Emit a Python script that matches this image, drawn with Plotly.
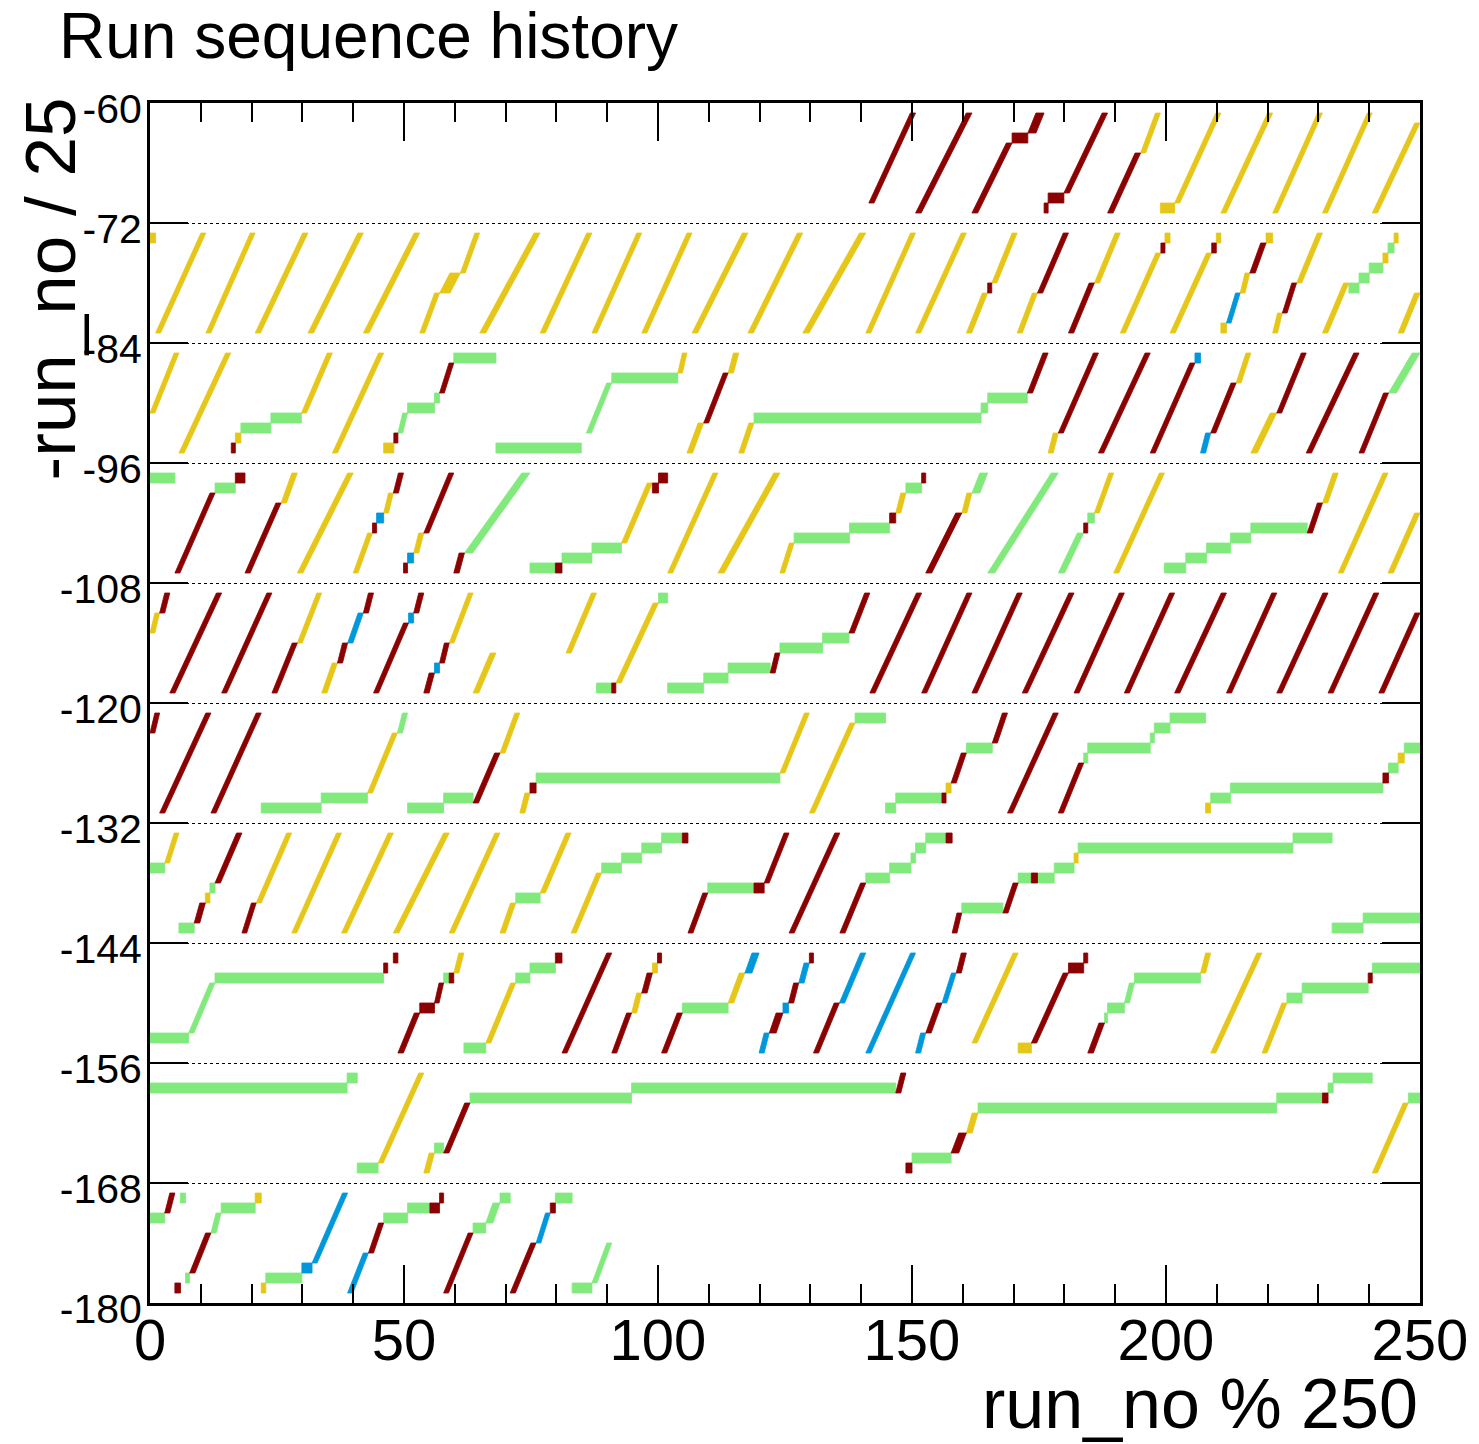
import plotly.graph_objects as go

# Each run group: (band, first_row, last_row, x_start, x_end)
# band 0 is the top strip (-60..-72), rows 0..9 counted upward inside a strip.
RED_RUNS = [
    (0,1,9,141.5,150.7),(0,0,9,150.7,161.8),(0,0,6,161.8,169.7),(0,7,7,169.7,172.8),(0,8,9,172.8,176.0),
    (0,0,0,176.0,176.8),(0,1,1,176.8,179.9),(0,2,9,179.9,188.5),(0,0,5,188.5,195.0),
    (1,4,4,164.9,165.7),(1,4,9,174.7,180.8),(1,0,4,180.8,185.9),(1,8,8,199.0,199.8),(1,8,8,209.0,209.9),
    (1,6,8,216.5,219.7),(1,2,4,222.9,225.7),
    (2,0,0,16.0,16.8),(2,1,1,48.0,48.8),(2,6,8,57.0,59.8),(2,3,7,109.0,113.8),(2,6,9,172.7,176.8),
    (2,2,9,178.8,186.7),(2,0,9,186.7,196.9),(2,0,8,196.9,205.7),(2,2,6,208.8,213.8),(2,4,9,221.8,227.6),
    (2,0,9,227.6,238.0),(2,0,5,238.0,243.8),
    (3,0,7,4.9,12.8),(3,9,9,16.8,18.7),(3,0,6,18.7,25.8),(3,4,4,43.8,44.6),(3,8,9,47.9,49.9),
    (3,0,0,49.9,50.7),(3,4,9,53.9,59.8),(3,0,1,59.8,61.9),(3,0,0,79.8,81.1),(3,8,8,98.9,100.1),
    (3,9,9,100.1,101.9),(3,5,5,145.6,146.8),(3,9,9,151.9,152.7),(3,0,5,152.7,159.8),(3,4,4,183.8,184.6),
    (3,4,6,227.8,230.8),
    (4,8,9,1.9,3.9),(4,0,9,3.9,14.1),(4,0,9,14.1,24.0),(4,0,4,24.0,29.0),(4,3,4,36.9,38.9),
    (4,8,9,42.0,44.0),(4,0,6,44.0,50.9),(4,8,9,51.9,53.9),(4,0,1,53.9,56.0),(4,3,4,57.0,58.9),
    (4,0,0,90.9,91.7),(4,2,3,122.1,124.0),(4,6,9,137.6,141.7),(4,0,9,141.7,151.9),(4,0,9,151.9,161.8),
    (4,0,9,161.8,171.7),(4,0,9,171.7,181.9),(4,0,9,181.9,191.8),(4,0,9,191.8,201.7),(4,0,9,201.7,211.9),
    (4,0,9,211.9,221.8),(4,0,9,221.8,231.9),(4,0,9,231.9,241.9),(4,0,7,241.9,250.0),
    (5,8,9,0.0,1.9),(5,0,9,1.9,12.0),(5,0,9,12.0,21.9),(5,1,5,63.6,68.9),(5,2,2,74.8,76.0),
    (5,1,1,155.9,156.7),(5,3,5,157.7,160.7),(5,7,9,165.8,168.8),(5,0,9,168.8,178.8),(5,0,4,178.8,183.8),
    (5,3,3,242.7,243.8),
    (6,1,2,8.7,10.9),(6,5,9,12.8,18.1),(6,0,2,18.1,20.9),(6,9,9,104.8,105.9),(6,0,3,105.9,109.8),
    (6,4,4,118.9,120.9),(6,5,9,120.9,125.8),(6,0,9,125.8,135.8),(6,0,4,135.8,140.9),(6,9,9,156.7,157.9),
    (6,0,1,157.9,159.8),(6,2,4,167.9,170.9),(6,5,5,173.5,174.7),
    (7,8,8,46.0,46.8),(7,9,9,47.9,48.8),(7,0,3,48.8,53.1),(7,4,4,53.1,56.0),(7,5,6,56.0,57.8),
    (7,7,7,58.9,59.8),(7,9,9,79.8,81.1),(7,0,9,81.1,90.9),(7,0,3,90.9,94.8),(7,6,7,96.8,98.9),
    (7,9,9,99.9,100.7),(7,0,3,100.7,104.8),(7,2,3,121.9,124.6),(7,5,6,125.7,127.7),(7,9,9,129.8,130.6),
    (7,0,4,130.6,135.7),(7,2,4,152.7,155.9),(7,8,9,158.7,160.7),(7,1,7,173.5,180.8),(7,8,8,180.8,183.8),
    (7,9,9,183.8,184.6),(7,0,2,184.6,187.9),(7,7,7,239.8,240.6),
    (8,2,6,57.8,63.0),(8,8,9,146.8,148.8),(8,0,0,148.8,150.0),(8,2,3,157.7,160.7),(8,7,7,230.8,231.9),
    (9,8,9,2.9,4.9),(9,0,0,4.9,6.0),(9,2,5,7.8,12.0),(9,4,6,43.0,46.0),(9,8,8,55.1,57.0),
    (9,9,9,57.0,57.8),(9,0,5,57.8,63.6),(9,0,4,70.9,76.0),(9,8,8,78.8,79.8),
]

YELLOW_RUNS = [
    (0,6,9,195.0,198.9),(0,0,0,198.9,201.7),(0,1,9,201.7,210.8),(0,0,9,210.8,221.0),(0,0,9,221.0,230.8),
    (0,0,9,230.8,240.6),(0,0,8,240.6,250.0),
    (1,9,9,0.0,1.1),(1,0,9,1.1,11.0),(1,0,9,11.0,20.7),(1,0,9,20.7,31.1),(1,0,9,31.1,42.0),
    (1,0,9,42.0,53.1),(1,0,3,53.1,57.0),(1,4,5,57.0,61.1),(1,6,9,61.1,64.9),(1,0,9,64.9,76.8),
    (1,0,9,76.8,87.0),(1,0,9,87.0,96.8),(1,0,9,96.8,106.7),(1,0,9,106.7,117.7),(1,0,9,117.7,128.5),
    (1,0,9,128.5,140.9),(1,0,9,140.9,150.7),(1,0,9,150.7,160.7),(1,0,3,160.7,164.9),(1,5,9,165.7,170.7),
    (1,0,3,170.7,174.7),(1,5,9,185.9,191.0),(1,0,7,191.0,199.0),(1,9,9,199.8,200.8),(1,0,7,200.8,209.0),
    (1,9,9,209.9,210.8),(1,0,0,210.8,211.9),(1,4,5,214.6,216.5),(1,9,9,219.7,221.0),(1,0,1,221.0,222.9),
    (1,5,9,225.7,230.8),(1,0,4,230.8,236.0),(1,7,7,242.7,243.7),(1,9,9,244.9,245.7),(1,0,3,245.7,250.0),
    (2,4,9,0.0,5.7),(2,0,9,5.7,15.9),(2,1,1,16.8,17.9),(2,4,9,29.8,35.9),(2,0,9,35.9,46.0),
    (2,0,0,46.0,48.0),(2,8,9,103.9,105.7),(2,0,2,105.7,109.0),(2,8,9,113.8,115.9),(2,0,2,115.9,118.9),
    (2,0,1,176.8,178.8),(2,7,9,213.8,216.7),(2,0,3,216.7,221.8),
    (3,7,9,25.8,29.0),(3,0,9,29.0,40.0),(3,0,3,40.0,43.8),(3,6,7,46.0,47.9),(3,2,3,51.9,53.9),
    (3,3,8,92.8,98.9),(3,0,9,101.9,111.8),(3,0,9,111.8,124.0),(3,0,2,124.0,126.8),(3,6,7,146.8,148.8),
    (3,6,7,159.8,161.8),(3,6,9,185.9,189.7),(3,0,9,189.7,199.7),(3,7,9,230.8,233.9),(3,0,9,233.9,243.7),
    (3,0,5,243.7,250.0),
    (4,6,7,0.0,1.9),(4,5,9,29.0,33.8),(4,0,2,33.8,36.9),(4,5,9,58.9,63.6),(4,0,3,63.6,68.1),
    (4,4,9,81.9,87.9),(4,1,8,91.7,100.1),
    (5,2,7,42.8,48.7),(5,6,9,68.9,72.8),(5,0,1,72.8,74.8),(5,4,9,124.0,129.8),(5,0,8,129.8,138.8),
    (5,2,2,156.7,157.7),(5,0,0,207.8,208.8),(5,5,5,245.7,246.9),
    (6,7,9,2.9,5.7),(6,3,3,10.9,11.8),(6,3,9,20.9,27.9),(6,0,9,27.9,37.7),(6,0,9,37.7,47.9),
    (6,0,9,47.9,58.9),(6,0,9,58.9,68.9),(6,0,2,68.9,72.0),(6,4,9,76.8,82.9),(6,0,5,82.9,88.9),
    (6,7,7,181.9,182.7),
    (7,8,9,59.8,61.8),(7,1,6,66.1,72.0),(7,4,5,94.8,96.8),(7,8,8,98.9,99.9),(7,5,7,113.8,117.1),
    (7,1,9,161.8,170.9),(7,0,0,170.9,173.5),(7,8,9,206.8,208.8),(7,0,9,208.8,218.9),(7,0,4,218.9,223.8),
    (8,1,9,44.9,53.9),(8,0,1,53.9,56.0),(8,4,5,160.7,163.0),(8,0,6,240.6,247.7),
    (9,9,9,20.7,21.9),(9,0,0,21.9,22.8),
]

GREEN_RUNS = [
    (1,4,4,236.0,238.0),(1,5,5,238.0,240.0),(1,6,6,240.0,242.7),(1,8,8,243.7,244.9),
    (2,2,2,17.9,23.8),(2,3,3,23.8,29.8),(2,2,3,48.8,50.7),(2,4,4,50.7,56.0),(2,5,5,56.0,57.0),
    (2,9,9,59.8,68.1),(2,0,0,68.1,84.9),(2,2,6,85.9,90.9),(2,7,7,90.9,103.9),(2,3,3,118.9,163.6),
    (2,4,4,163.6,164.9),(2,5,5,164.9,172.7),(2,6,9,243.8,250.0),
    (3,9,9,0.0,4.9),(3,8,8,12.8,16.8),(3,2,9,61.9,74.8),(3,0,0,74.8,79.8),(3,1,1,81.1,87.0),
    (3,2,2,87.0,92.8),(3,3,3,126.8,137.7),(3,4,4,137.7,145.6),(3,8,8,148.8,151.9),(3,8,9,161.8,164.9),
    (3,0,9,164.9,178.8),(3,0,3,178.8,183.8),(3,5,5,184.6,185.9),(3,0,0,199.7,203.9),(3,1,1,203.9,208.0),
    (3,2,2,208.0,212.7),(3,3,3,212.7,216.7),(3,4,4,216.7,227.8),
    (4,9,9,100.1,101.9),(4,0,0,87.9,90.9),(4,0,0,101.9,109.0),(4,1,1,109.0,113.8),(4,2,2,113.8,122.1),
    (4,4,4,124.0,132.4),(4,5,5,132.4,137.6),
    (5,0,0,21.9,33.7),(5,1,1,33.7,42.8),(5,8,9,48.7,50.7),(5,0,0,50.7,57.8),(5,1,1,57.8,63.6),
    (5,3,3,76.0,124.0),(5,9,9,138.8,144.8),(5,0,0,144.8,146.8),(5,1,1,146.8,155.9),(5,6,6,160.7,165.8),
    (5,5,5,183.8,184.6),(5,6,6,184.6,196.9),(5,7,7,196.9,197.7),(5,8,8,197.7,200.8),(5,9,9,200.8,207.8),
    (5,1,1,208.8,212.7),(5,2,2,212.7,242.7),(5,4,4,243.8,245.7),(5,6,6,246.9,250.0),
    (6,6,6,0.0,2.9),(6,0,0,5.7,8.7),(6,4,4,11.8,12.8),(6,3,3,72.0,76.8),(6,6,6,88.9,92.8),
    (6,7,7,92.8,96.8),(6,8,8,96.8,100.7),(6,9,9,100.7,104.8),(6,4,4,109.8,118.9),(6,5,5,140.9,145.6),
    (6,6,6,145.6,149.8),(6,7,7,149.8,150.7),(6,8,8,150.7,152.7),(6,9,9,152.7,156.7),(6,2,2,159.8,167.9),
    (6,5,5,170.9,173.5),(6,5,5,174.7,178.0),(6,6,6,178.0,181.9),(6,8,8,182.7,225.0),(6,9,9,225.0,232.7),
    (6,0,0,232.7,238.8),(6,1,1,238.8,250.0),
    (7,1,1,0.0,7.6),(7,2,6,7.6,12.8),(7,7,7,12.8,46.0),(7,7,7,57.8,58.9),(7,0,0,61.8,66.1),
    (7,7,7,72.0,74.8),(7,8,8,74.8,79.8),(7,4,4,104.8,113.8),(7,3,3,187.9,188.5),(7,4,4,188.5,191.8),
    (7,5,6,191.8,193.8),(7,7,7,193.8,206.8),(7,5,5,223.8,226.8),(7,6,6,226.8,239.8),(7,8,8,240.6,250.0),
    (8,8,8,0.0,38.8),(8,9,9,38.8,40.8),(8,0,0,40.8,44.9),(8,2,2,56.0,57.8),(8,7,7,63.0,94.8),
    (8,8,8,94.8,146.8),(8,1,1,150.0,157.7),(8,6,6,163.0,221.8),(8,7,7,221.8,230.8),(8,8,8,231.9,232.9),
    (8,9,9,232.9,240.6),(8,7,7,247.7,250.0),
    (9,7,7,0.0,2.9),(9,9,9,6.0,7.0),(9,1,1,7.0,7.8),(9,6,7,12.0,14.0),(9,8,8,14.0,20.7),
    (9,1,1,22.8,29.9),(9,7,7,46.0,50.7),(9,8,8,50.7,55.1),(9,6,6,63.6,66.1),(9,7,8,66.1,68.9),
    (9,9,9,68.9,70.9),(9,9,9,79.8,83.1),(9,0,0,83.1,87.0),(9,1,4,87.0,90.9),
]

BLUE_RUNS = [
    (1,1,3,211.9,214.6),(2,9,9,205.7,206.8),(2,0,1,206.8,208.8),(3,5,5,44.6,46.0),(3,1,1,50.7,51.9),
    (4,5,7,38.9,42.0),(4,7,7,50.9,51.9),(4,2,2,56.0,57.0),(7,8,9,117.1,119.9),(7,0,1,119.9,121.9),
    (7,4,4,124.6,125.7),(7,7,8,127.7,129.8),(7,5,9,135.7,140.9),(7,0,9,140.9,150.7),(7,0,1,150.7,152.7),
    (7,5,7,155.9,158.7),(9,2,2,29.9,31.9),(9,3,9,31.9,38.9),(9,0,3,38.9,43.0),(9,5,7,76.0,78.8),
]

X_TICKS = [0, 50, 100, 150, 200, 250]
Y_TICKS = [-60, -72, -84, -96, -108, -120, -132, -144, -156, -168, -180]

ROW_BASE = -71   # bottom of row 0 in band 0
BAND_H = 12

SERIES = [
    (GREEN_RUNS, "#82ea7d"),
    (YELLOW_RUNS, "#e6c619"),
    (RED_RUNS, "#8b0000"),
    (BLUE_RUNS, "#0098da"),
]


def polygons(groups):
    xs, ys = [], []
    for b, lo, hi, x0, x1 in groups:
        n = hi - lo + 1
        c = (x1 - x0) / n
        yb = ROW_BASE - BAND_H * b + lo
        yt = yb + n
        xs += [x0, x0 + c, x1, x1 - c, x0, None]
        ys += [yb, yb, yt, yt, yb, None]
    return xs, ys


fig = go.Figure()
for groups, color in SERIES:
    xs, ys = polygons(groups)
    fig.add_trace(go.Scatter(
        x=xs, y=ys, mode="lines", fill="toself", fillcolor=color,
        line=dict(color=color, width=0.8), hoverinfo="skip", showlegend=False,
    ))

FONT = "Liberation Sans, Arial, Helvetica, sans-serif"

fig.update_layout(
    width=1471, height=1436,
    margin=dict(l=142, r=59, t=95, b=141),
    paper_bgcolor="white", plot_bgcolor="white",
    font=dict(family=FONT, color="black"),
    xaxis=dict(
        range=[0, 250], tickvals=X_TICKS, ticktext=[str(v) for v in X_TICKS],
        ticks="inside", ticklen=38, tickwidth=2, tickcolor="black",
        minor=dict(dtick=10, tick0=0, ticks="inside", ticklen=19, tickwidth=2, tickcolor="black", showgrid=False),
        showline=True, linewidth=3, linecolor="black", mirror="ticks",
        showgrid=False, zeroline=False, tickfont=dict(size=58, family=FONT),
        ticklabelstandoff=-16, automargin=False,
    ),
    yaxis=dict(
        range=[-180, -60], tickvals=Y_TICKS, ticktext=[str(v) for v in Y_TICKS],
        ticks="inside", ticklen=38, tickwidth=2, tickcolor="black",
        showline=True, linewidth=3, linecolor="black", mirror="ticks",
        showgrid=True, gridcolor="black", gridwidth=1, griddash="dot",
        zeroline=False, tickfont=dict(size=41, family=FONT),
        ticklabelstandoff=-3, ticklabelshift=6, automargin=False,
    ),
    annotations=[
        dict(text="Run sequence history", xref="paper", yref="paper",
             x=-0.0733, y=1.0558, xanchor="left", yanchor="middle",
             showarrow=False, font=dict(size=64, family=FONT)),
        dict(text="run_no % 250", xref="paper", yref="paper",
             x=1.0, y=-0.0842, xanchor="right", yanchor="middle",
             showarrow=False, font=dict(size=70, family=FONT)),
        dict(text="-run_no / 25", xref="paper", yref="paper",
             x=-0.0787, y=0.8447, xanchor="center", yanchor="middle", textangle=-90,
             showarrow=False, font=dict(size=71, family=FONT)),
    ],
)

fig.write_html("out.html")
